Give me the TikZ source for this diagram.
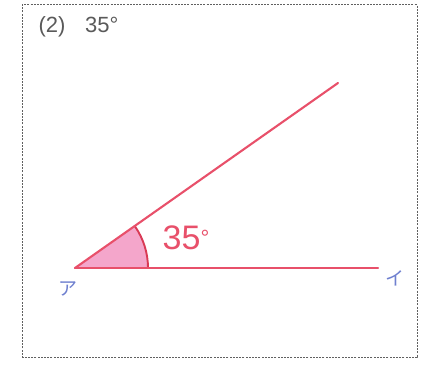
\documentclass[tikz,border=0pt]{standalone}
\usepackage{fontspec}
\setmainfont{Liberation Sans}
\newfontfamily\jpfont{Noto Sans CJK JP}
\usetikzlibrary{calc}
\definecolor{pen}{HTML}{E8506A}
\definecolor{pendk}{HTML}{D93A55}
\definecolor{wash}{HTML}{F4A6CB}
\definecolor{kana}{HTML}{6F80CF}
\definecolor{frame}{HTML}{606060}
\definecolor{head}{HTML}{5A5A5A}
\tikzset{fig/.style={line join=round,line cap=round,x=1pt,y=1pt}}

\begin{document}
\begin{tikzpicture}[fig]
  \useasboundingbox(0,0)rectangle(428,366);
  \draw[frame,line width=1pt,dash pattern=on 2pt off 1.2pt,line cap=butt](22,8)rectangle(417,361);
  \node[head,font=\fontsize{22}{24}\selectfont,anchor=west](title)at(35,339){(2)\hspace{0.9em}35°};
  \coordinate(A)at(75,98);
  \coordinate(B)at(378,98);
  \coordinate(C)at(338,283);
  \fill[wash](A)--++(73,0)arc[start angle=0,end angle=35,radius=73]--cycle;
  \draw[pendk,line width=1.9pt]($(A)+(73,0)$)arc[start angle=0,end angle=35,radius=73];
  \draw[pen,line width=2.1pt](A)--(B);
  \draw[pen,line width=2.1pt](A)--(C);
  \node[pen,font=\fontsize{34}{36}\selectfont](deg)at(186,128){35\raisebox{0.25ex}{\fontsize{22}{22}\selectfont°}};
  \node[kana,font=\jpfont\fontsize{19}{20}\selectfont](pa)at(68,77){ア};
  \node[kana,font=\jpfont\fontsize{19}{20}\selectfont](pi)at(395,88){イ};
\end{tikzpicture}
\end{document}
